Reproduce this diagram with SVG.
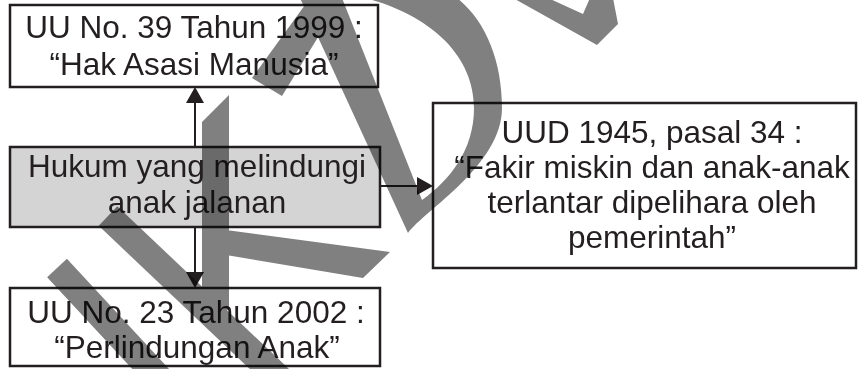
<svg xmlns="http://www.w3.org/2000/svg" width="859" height="369" viewBox="0 0 859 369">
  <style>
    .box { fill: #ffffff; stroke: #231f20; stroke-width: 2.5; }
    .hub { fill: #d4d4d4; }
    .lbl { font-family: "Liberation Sans", Arial, sans-serif; font-size: 31.5px; fill: #231f20; text-anchor: middle; }
    .link { stroke: #231f20; stroke-width: 2; fill: none; marker-end: url(#arrow); }
    .wm { mix-blend-mode: multiply; }
    .wm path, .wm polygon { fill: #808080; }
    .wm .band { fill: none; stroke: #808080; stroke-width: 27; stroke-linecap: butt; }
  </style>
  <defs>
    <marker id="arrow" viewBox="0 0 16 18" refX="13" refY="9" markerWidth="16" markerHeight="18" markerUnits="userSpaceOnUse" orient="auto">
      <path d="M0,0 L16,9 L0,18 Z" fill="#231f20"/>
    </marker>
  </defs>

  <rect width="859" height="369" fill="#ffffff"/>

  <!-- connectors -->
  <g id="connectors">
    <line class="link" x1="195" y1="147" x2="195" y2="90"/>
    <line class="link" x1="195" y1="227" x2="195" y2="285"/>
    <line class="link" x1="380" y1="186" x2="430" y2="186"/>
  </g>

  <!-- nodes -->
  <g id="uu-39-1999">
    <rect class="box" x="10" y="5" width="368" height="82"/>
    <text class="lbl" x="194" y="38">UU No. 39 Tahun 1999 :</text>
    <text class="lbl" x="194" y="75">“Hak Asasi Manusia”</text>
  </g>

  <g id="hukum">
    <rect class="box hub" x="10" y="147" width="370" height="80"/>
    <text class="lbl" x="197" y="177">Hukum yang melindungi</text>
    <text class="lbl" x="197" y="213">anak jalanan</text>
  </g>

  <g id="uu-23-2002">
    <rect class="box" x="10" y="288" width="370" height="78"/>
    <text class="lbl" x="196" y="323">UU No. 23 Tahun 2002 :</text>
    <text class="lbl" x="197" y="358">“Perlindungan Anak”</text>
  </g>

  <g id="uud-1945">
    <rect class="box" x="433" y="103" width="423" height="165"/>
    <text class="lbl" x="652" y="143">UUD 1945, pasal 34 :</text>
    <text class="lbl" x="652" y="178">“Fakir miskin dan anak-anak</text>
    <text class="lbl" x="652" y="213">terlantar dipelihara oleh</text>
    <text class="lbl" x="652" y="248">pemerintah”</text>
  </g>

  <!-- watermark overlay -->
  <g id="watermark" class="wm">
    <path class="band" d="M57,268 L172,392"/>
    <path class="band" d="M108,216 L300,398"/>
    <polygon points="202,122 229,95 229,310 202,310"/>
    <polygon points="226,230 390,252 363,278 226,255"/>
    <polygon points="310,-2 342,-2 282,96 252,78"/>
    <path fill-rule="evenodd" d="M300,-2 L408,233 C425,210 502,165 502,108 C502,60 485,20 457,-2 Z M342,-2 L422,200 C450,180 474,150 474,108 C474,55 430,15 365,-2 Z"/>
    <polygon points="513,-2 548,-2 583,14 590,-2 613,-2 618,24 597,45"/>
  </g>
</svg>
